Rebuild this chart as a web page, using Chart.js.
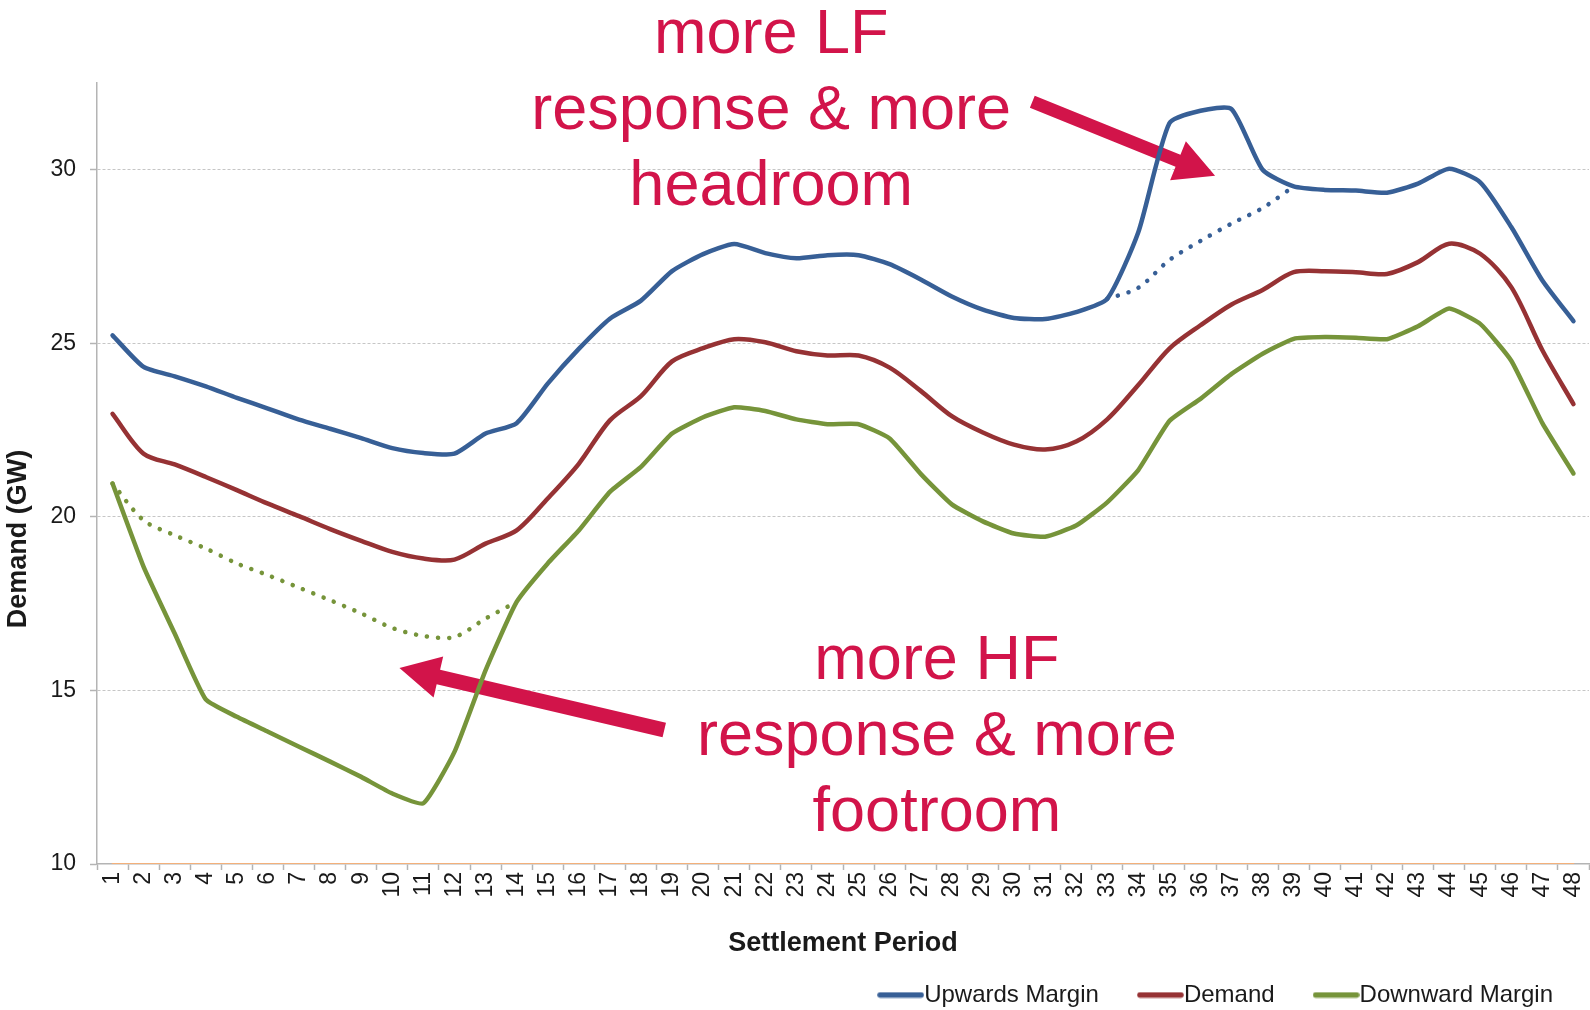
<!DOCTYPE html>
<html>
<head>
<meta charset="utf-8">
<script src="https://cdn.jsdelivr.net/npm/chart.js@4.4.1/dist/chart.umd.min.js"></script>
<style>
  html, body { margin: 0; padding: 0; background: #ffffff; }
  #c { display: block; }
</style>
</head>
<body>
<canvas id="c" width="1590" height="1010"></canvas>
<script>
// ---------------- DATA ----------------
const categories = ['1','2','3','4','5','6','7','8','9','10','11','12','13','14','15','16',
  '17','18','19','20','21','22','23','24','25','26','27','28','29','30','31','32',
  '33','34','35','36','37','38','39','40','41','42','43','44','45','46','47','48'];

const yTickValues = [10, 15, 20, 25, 30];

const upwardsMargin = [25.23, 24.32, 24.05, 23.76, 23.43, 23.12, 22.80, 22.54, 22.27, 21.98,
  21.84, 21.82, 22.40, 22.70, 23.84, 24.84, 25.71, 26.23, 27.08, 27.57,
  27.86, 27.60, 27.45, 27.54, 27.54, 27.28, 26.84, 26.35, 25.97, 25.73,
  25.70, 25.90, 26.28, 28.20, 31.34, 31.70, 31.75, 30.00, 29.52, 29.42,
  29.40, 29.34, 29.60, 30.03, 29.64, 28.35, 26.81, 25.64];

const demand = [22.97, 21.82, 21.51, 21.15, 20.77, 20.38, 20.02, 19.65, 19.31, 18.99,
  18.80, 18.77, 19.23, 19.61, 20.53, 21.53, 22.78, 23.48, 24.48, 24.86,
  25.12, 25.03, 24.77, 24.65, 24.65, 24.30, 23.63, 22.90, 22.43, 22.08,
  21.94, 22.17, 22.81, 23.80, 24.85, 25.52, 26.12, 26.54, 27.05, 27.08,
  27.05, 27.00, 27.34, 27.87, 27.58, 26.62, 24.80, 23.25];

const downwardMargin = [20.96, 18.56, 16.64, 14.74, 14.24, 13.81, 13.38, 12.95, 12.51, 12.03,
  11.75, 13.23, 15.58, 17.55, 18.66, 19.61, 20.72, 21.44, 22.40, 22.87,
  23.16, 23.05, 22.81, 22.67, 22.67, 22.26, 21.24, 20.36, 19.87, 19.52,
  19.43, 19.75, 20.42, 21.35, 22.76, 23.40, 24.12, 24.70, 25.13, 25.18,
  25.16, 25.12, 25.49, 26.00, 25.56, 24.50, 22.70, 21.25];

// alternative (dotted) paths
const upwardsMarginAlt = [null, null, null, null, null, null, null, null, null, null,
  null, null, null, null, null, null, null, null, null, null,
  null, null, null, null, null, null, null, null, null, null,
  null, null, 26.28, 26.60, 27.40, 27.95, 28.45, 28.90, 29.52, null,
  null, null, null, null, null, null, null, null];

const downwardMarginAlt = [20.96, 19.90, 19.47, 19.09, 18.66, 18.32, 17.96, 17.60, 17.22, 16.80,
  16.57, 16.54, 17.07, 17.55, null, null, null, null, null, null,
  null, null, null, null, null, null, null, null, null, null,
  null, null, null, null, null, null, null, null, null, null,
  null, null, null, null, null, null, null, null];

// faint series lying on the axis floor
const floorSeries = [10, 10, 10, 10, 10, 10, 10, 10, 10, 10, 10, 10, 10, 10, 10, 10,
  10, 10, 10, 10, 10, 10, 10, 10, 10, 10, 10, 10, 10, 10, 10, 10,
  10, 10, 10, 10, 10, 10, 10, 10, 10, 10, 10, 10, 10, 10, 10, 10];

const seriesNames = ['Upwards Margin', 'Demand', 'Downward Margin'];
const xTitle = 'Settlement Period';
const yTitle = 'Demand (GW)';

// annotations (anchored in data space: [category index, value])
const noteLF = { lines: ['more LF', 'response & more', 'headroom'], at: [21.19, 33.37] };
const noteHF = { lines: ['more HF', 'response & more', 'footroom'], at: [26.52, 15.33] };
const arrowLF = { from: [29.59, 31.96], to: [35.47, 29.83] };
const arrowHF = { from: [17.75, 13.86], to: [9.23, 15.65] };

// ---------------- STYLE ----------------
const FONT = '"Liberation Sans", Arial, Helvetica, sans-serif';
const BLUE = '#375F96';
const RED = '#963234';
const GREEN = '#76943A';
const ORANGE = '#F3B07A';
const CRIMSON = '#D2144A';
const AXIS = '#B4B4B4';
const TEXT = '#1a1a1a';

Chart.defaults.font.family = FONT;

function makeSwatch(color) {
  const c = document.createElement('canvas');
  c.width = 47; c.height = 7;
  const g = c.getContext('2d');
  g.strokeStyle = color; g.lineWidth = 5.5; g.lineCap = 'round';
  g.beginPath(); g.moveTo(3, 3.5); g.lineTo(44, 3.5); g.stroke();
  return c;
}
const swatches = [makeSwatch(BLUE), makeSwatch(RED), makeSwatch(GREEN)];

function drawArrow(ctx, x1, y1, x2, y2, shaft, headLen, headW, color) {
  const ang = Math.atan2(y2 - y1, x2 - x1);
  const len = Math.hypot(x2 - x1, y2 - y1);
  ctx.save();
  ctx.translate(x1, y1);
  ctx.rotate(ang);
  ctx.beginPath();
  ctx.moveTo(0, -shaft / 2);
  ctx.lineTo(len - headLen, -shaft / 2);
  ctx.lineTo(len - headLen, -headW / 2);
  ctx.lineTo(len, 0);
  ctx.lineTo(len - headLen, headW / 2);
  ctx.lineTo(len - headLen, shaft / 2);
  ctx.lineTo(0, shaft / 2);
  ctx.closePath();
  ctx.fillStyle = color;
  ctx.fill();
  ctx.restore();
}

const decorPlugin = {
  id: 'decor',
  afterLayout(chart) {
    const lg = chart.legend;
    if (lg) { lg.top += 7; lg.bottom += 7; lg.left += 14; lg.right += 14; }
  },
  beforeDatasetsDraw(chart) {
    const ctx = chart.ctx, xs = chart.scales.x, ys = chart.scales.y;
    [[arrowLF, 13], [arrowHF, 15]].forEach(([a, w]) => {
      drawArrow(ctx,
        xs.getPixelForValue(a.from[0]), ys.getPixelForValue(a.from[1]),
        xs.getPixelForValue(a.to[0]), ys.getPixelForValue(a.to[1]),
        w, 40, 42, CRIMSON);
    });
  },
  afterDraw(chart) {
    const ctx = chart.ctx, xs = chart.scales.x, ys = chart.scales.y, ca = chart.chartArea;
    ctx.save();
    // annotation texts
    ctx.fillStyle = CRIMSON;
    ctx.font = '63px ' + FONT;
    ctx.textAlign = 'center';
    ctx.textBaseline = 'alphabetic';
    [noteLF, noteHF].forEach(n => {
      const x = xs.getPixelForValue(n.at[0]);
      const y = ys.getPixelForValue(n.at[1]);
      n.lines.forEach((t, i) => ctx.fillText(t, x, y + i * 76));
    });
    // axis titles
    ctx.fillStyle = TEXT;
    ctx.font = 'bold 27px ' + FONT;
    ctx.textBaseline = 'middle';
    ctx.fillText(xTitle, (ca.left + ca.right) / 2, ca.bottom + 80);
    ctx.translate(19, ca.bottom - 325);
    ctx.rotate(-Math.PI / 2);
    ctx.fillText(yTitle, 0, 0);
    ctx.restore();
  }
};

const lineBase = {
  pointRadius: 0,
  pointHoverRadius: 0,
  borderWidth: 4.5,
  fill: false,
  tension: 0.2,
  borderCapStyle: 'round',
  borderJoinStyle: 'round'
};

new Chart(document.getElementById('c'), {
  type: 'line',
  data: {
    labels: categories,
    datasets: [
      Object.assign({}, lineBase, { label: seriesNames[0], data: upwardsMargin, borderColor: BLUE, backgroundColor: BLUE, tension: 0.2 }),
      Object.assign({}, lineBase, { label: seriesNames[1], data: demand, borderColor: RED, backgroundColor: RED, tension: 0.3 }),
      Object.assign({}, lineBase, { label: seriesNames[2], data: downwardMargin, borderColor: GREEN, backgroundColor: GREEN, tension: 0.15 }),
      Object.assign({}, lineBase, { label: seriesNames[0] + ' (alt)', data: upwardsMarginAlt, borderColor: BLUE, borderDash: [0.1, 11], tension: 0.3 }),
      Object.assign({}, lineBase, { label: seriesNames[2] + ' (alt)', data: downwardMarginAlt, borderColor: GREEN, borderDash: [0.1, 11], tension: 0.3 }),
      Object.assign({}, lineBase, { label: 'floor', data: floorSeries, borderColor: ORANGE, borderWidth: 2, tension: 0 })
    ]
  },
  options: {
    responsive: false,
    animation: false,
    events: [],
    layout: { padding: { top: 83, right: 1, bottom: 0, left: 0 } },
    plugins: {
      tooltip: { enabled: false },
      title: { display: false },
      legend: {
        position: 'bottom',
        align: 'end',
        labels: {
          usePointStyle: true,
          pointStyleWidth: 23,
          padding: 50,
          color: TEXT,
          font: { size: 24, family: FONT },
          generateLabels(chart) {
            const items = Chart.defaults.plugins.legend.labels.generateLabels(chart);
            return items.filter(it => it.datasetIndex < 3).map(it => {
              it.pointStyle = swatches[it.datasetIndex];
              return it;
            });
          }
        }
      }
    },
    scales: {
      x: {
        type: 'category',
        offset: true,
        grid: { display: true, offset: true, drawOnChartArea: false, drawTicks: true,
                tickLength: 6, tickColor: AXIS, tickWidth: 1.5, tickBorderDash: [] },
        border: { display: true, color: AXIS, width: 1.5 },
        ticks: { autoSkip: false, minRotation: 90, maxRotation: 90, padding: 2,
                 color: TEXT, font: { size: 23, family: FONT } },
        afterFit(scale) { scale.height = 62; scale.paddingLeft = 0; scale.paddingRight = 0; }
      },
      y: {
        type: 'linear',
        min: 10,
        max: 32.5,
        afterBuildTicks(scale) { scale.ticks = yTickValues.map(v => ({ value: v })); },
        grid: {
          color: (c) => (c.tick && c.tick.value === 10) ? 'rgba(0,0,0,0)' : '#C6C6C6',
          lineWidth: 1,
          tickLength: 7,
          tickColor: AXIS,
          tickWidth: 1.5,
          tickBorderDash: []
        },
        border: { display: true, color: AXIS, width: 1.5, dash: [3, 2] },
        ticks: { padding: 14, color: TEXT, font: { size: 23, family: FONT } },
        afterFit(scale) { scale.width = 97; scale.paddingTop = 0; scale.paddingBottom = 0; }
      }
    }
  },
  plugins: [decorPlugin]
});
</script>
</body>
</html>
